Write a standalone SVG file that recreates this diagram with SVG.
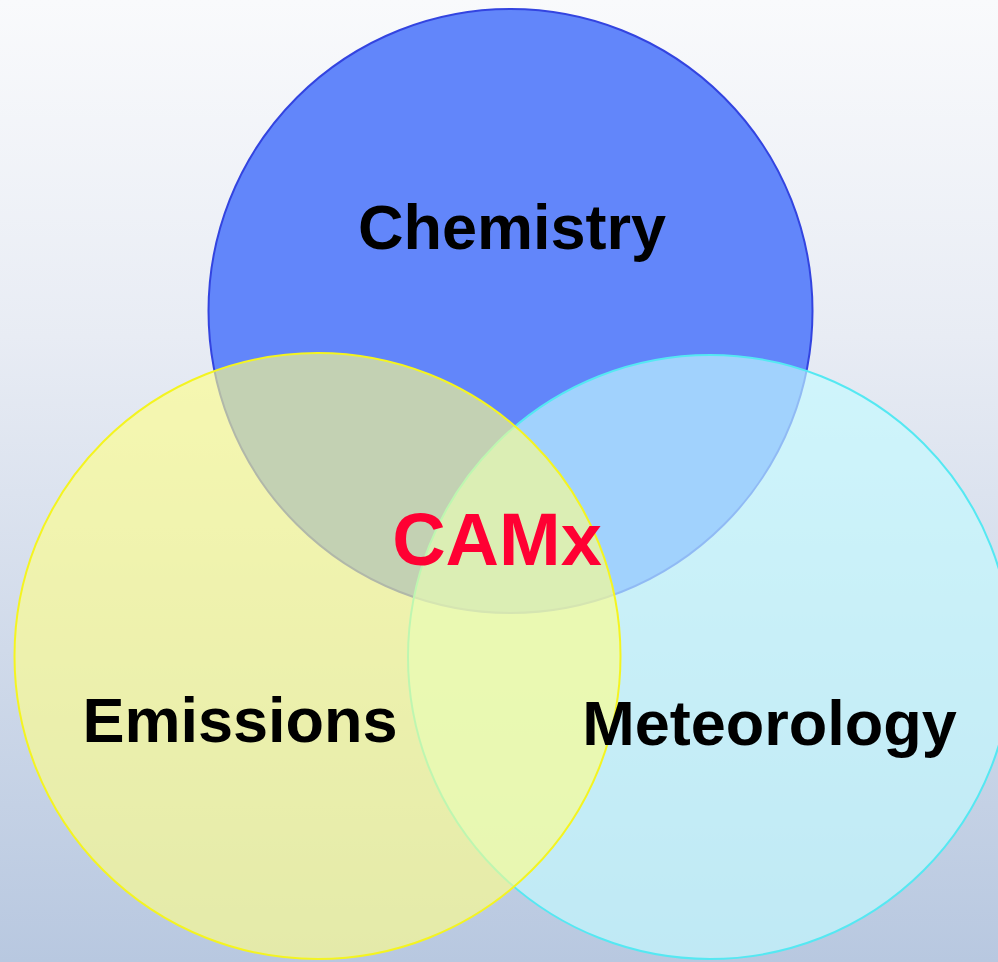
<svg xmlns="http://www.w3.org/2000/svg" width="998" height="962" viewBox="0 0 998 962">
  <defs>
    <linearGradient id="bg" x1="0" y1="0" x2="0" y2="1">
      <stop offset="0" stop-color="#F9FAFC"/>
      <stop offset="0.35" stop-color="#E8ECF4"/>
      <stop offset="1" stop-color="#B8C8E0"/>
    </linearGradient>
  </defs>
  <style>
    .label { font-family: "Liberation Sans", Arial, sans-serif; font-weight: bold; text-anchor: middle; fill: #000000; font-size: 63px; }
    .core { fill: #FF0033; font-size: 74px; }
  </style>

  <rect x="0" y="0" width="998" height="962" fill="url(#bg)"/>

  <!-- Chemistry: opaque blue circle at the back -->
  <g id="chemistry">
    <circle cx="510.5" cy="311" r="302" fill="#6286FA" stroke="#3344E0" stroke-width="2"/>
  </g>

  <!-- Meteorology: translucent cyan circle -->
  <g id="meteorology">
    <circle cx="710" cy="657" r="302" fill="#C3FAFF" fill-opacity="0.65" stroke="#55E8F2" stroke-width="2"/>
  </g>

  <!-- Emissions: translucent yellow circle on top -->
  <g id="emissions">
    <circle cx="317.5" cy="656" r="303" fill="#FFFF87" fill-opacity="0.62" stroke="#F4F420" stroke-width="2"/>
  </g>

  <!-- Labels -->
  <g id="labels">
    <text class="label" x="512" y="249">Chemistry</text>
    <text class="label" x="240" y="742">Emissions</text>
    <text class="label" x="769.5" y="745" font-size="64">Meteorology</text>
    <text class="label core" x="497" y="565">CAMx</text>
  </g>
</svg>
